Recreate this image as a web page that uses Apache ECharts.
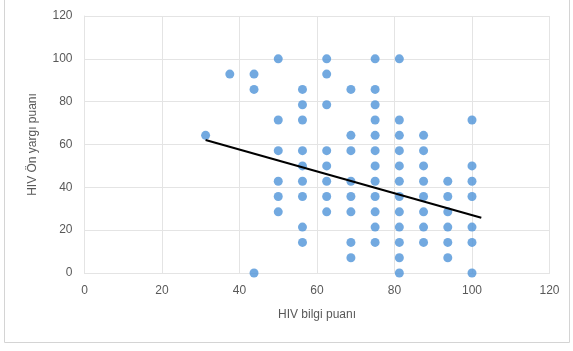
<!DOCTYPE html>
<html>
<head>
<meta charset="utf-8">
<script src="https://cdn.jsdelivr.net/npm/echarts@6/dist/echarts.min.js"></script>
<style>
  html, body { margin: 0; padding: 0; background: #fff; }
  #chart { width: 573px; height: 351px; }
</style>
</head>
<body>
<div id="chart"></div>
<script>
// HIV bilgi puanı (x) ve HIV Ön yargı puanı (y)
const pointX = [
  31.25,
  37.5,
  43.75, 43.75, 43.75,
  50, 50, 50, 50, 50, 50,
  56.25, 56.25, 56.25, 56.25, 56.25, 56.25, 56.25, 56.25, 56.25,
  62.5, 62.5, 62.5, 62.5, 62.5, 62.5, 62.5, 62.5,
  68.75, 68.75, 68.75, 68.75, 68.75, 68.75, 68.75, 68.75,
  75, 75, 75, 75, 75, 75, 75, 75, 75, 75, 75, 75,
  81.25, 81.25, 81.25, 81.25, 81.25, 81.25, 81.25, 81.25, 81.25, 81.25, 81.25, 81.25,
  87.5, 87.5, 87.5, 87.5, 87.5, 87.5, 87.5, 87.5,
  93.75, 93.75, 93.75, 93.75, 93.75, 93.75,
  100, 100, 100, 100, 100, 100, 100
];
const pointY = [
  64.29,
  92.86,
  92.86, 85.71, 0,
  100, 71.43, 57.14, 42.86, 35.71, 28.57,
  85.71, 78.57, 71.43, 57.14, 50, 42.86, 35.71, 21.43, 14.29,
  100, 92.86, 78.57, 57.14, 50, 42.86, 35.71, 28.57,
  85.71, 64.29, 57.14, 42.86, 35.71, 28.57, 14.29, 7.14,
  100, 85.71, 78.57, 71.43, 64.29, 57.14, 50, 42.86, 35.71, 28.57, 21.43, 14.29,
  100, 71.43, 64.29, 57.14, 50, 42.86, 35.71, 28.57, 21.43, 14.29, 7.14, 0,
  64.29, 57.14, 50, 42.86, 35.71, 28.57, 21.43, 14.29,
  42.86, 35.71, 28.57, 21.43, 14.29, 7.14,
  71.43, 50, 42.86, 35.71, 21.43, 14.29, 0
];
// trend line end points
const trendX = [31.25, 102.4];
const trendY = [62.1, 25.8];
const axisTicks = [0, 20, 40, 60, 80, 100, 120];

const chart = echarts.init(document.getElementById('chart'));
const gridColor = '#e4e4e4';
const textColor = '#595959';
const font = 'Liberation Sans';

function axis(name, gap, rotate) {
  return {
    type: 'value',
    min: axisTicks[0],
    max: axisTicks[axisTicks.length - 1],
    interval: axisTicks[1] - axisTicks[0],
    name: name,
    nameLocation: 'middle',
    nameGap: gap,
    nameRotate: rotate,
    nameTextStyle: { color: textColor, fontSize: 12, fontFamily: font },
    axisLine: { show: true, lineStyle: { color: gridColor, width: 1 } },
    axisTick: { show: false },
    axisLabel: { color: textColor, fontSize: 12, fontFamily: font, margin: 12 },
    splitLine: { show: true, lineStyle: { color: gridColor, width: 1 } }
  };
}

chart.setOption({
  animation: false,
  grid: { left: 84.5, right: 23.5, top: 16, bottom: 78 },
  graphic: [{
    type: 'rect',
    shape: { x: 4.5, y: -1, width: 565, height: 343.5 },
    style: { fill: 'none', stroke: '#d4d4d4', lineWidth: 1 }
  }],
  xAxis: axis('HIV bilgi puanı', 36, 0),
  yAxis: axis('HIV Ön yargı puanı', 46, 90),
  series: [
    {
      type: 'scatter',
      symbolSize: 9,
      itemStyle: { color: '#4f93d8' },
      data: pointX.map((x, i) => [x, pointY[i]])
    },
    {
      type: 'line',
      symbol: 'none',
      lineStyle: { color: '#000', width: 2 },
      data: trendX.map((x, i) => [x, trendY[i]])
    }
  ]
});
</script>
</body>
</html>
